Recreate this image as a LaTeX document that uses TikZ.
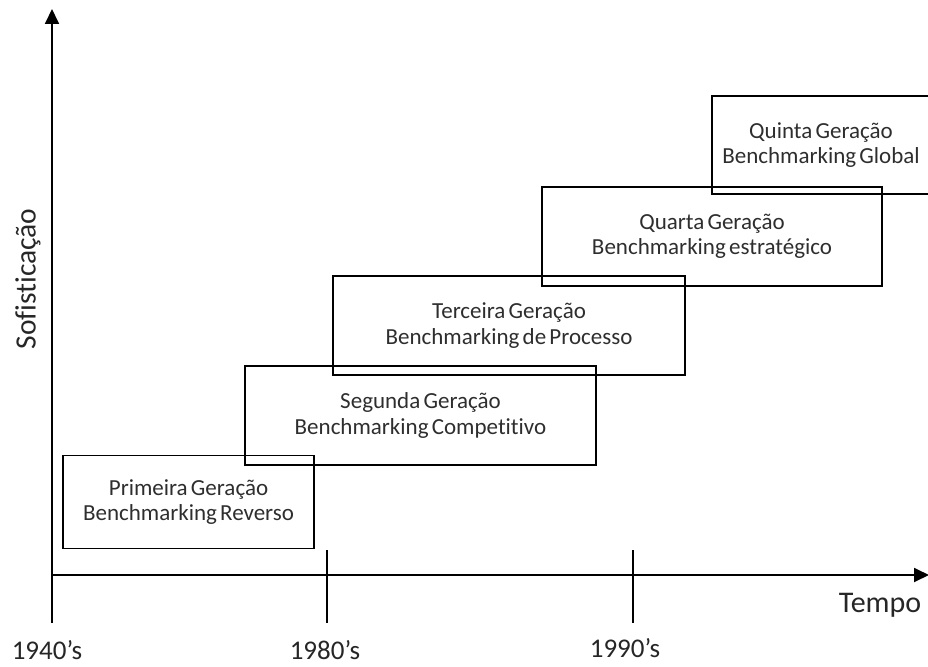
\documentclass[tikz,border=0pt]{standalone}
\usepackage{fontspec}
\setmainfont[Ligatures=NoCommon]{Carlito}
\usetikzlibrary{arrows.meta}
\newcommand\boxfont{\fontsize{23}{25.5}\selectfont\spaceskip=0.14em\relax}
\begin{document}
\begin{tikzpicture}[x=1pt,y=-1pt,
  axis/.style={line width=1.8pt,-{Triangle[length=15pt,width=14pt]}},
  tick/.style={line width=1.8pt},
  genbox/.style={draw,line width=1.8pt,align=center,inner sep=0pt,
    font=\boxfont,text=black!82},
  lbl/.style={font=\fontsize{27}{30}\selectfont,text=black!85,inner sep=1pt}]
\useasboundingbox (0,0) rectangle (928,666);
% axes
\coordinate (ybot) at (52,623);
\coordinate (ytop) at (52,9);
\coordinate (xleft) at (52,575);
\coordinate (xright) at (929,575);
\draw[axis] (ybot) -- (ytop);
\draw[axis] (xleft) -- (xright);
% ticks
\coordinate (t1a) at (327,550); \coordinate (t1b) at (327,623);
\coordinate (t2a) at (633,550); \coordinate (t2b) at (633,623);
\draw[tick] (t1a) -- (t1b);
\draw[tick] (t2a) -- (t2b);
% axis labels
\node[lbl] (l1940) at (47,650) {1940’s};
\node[lbl] (l1980) at (325,650) {1980’s};
\node[lbl] (l1990) at (625,648) {1990’s};
\node[lbl,font=\fontsize{30}{33}\selectfont] (tempo) at (880,605) {Tempo};
\node[lbl,font=\fontsize{29.5}{32}\selectfont,rotate=90] (sofis) at (28,279) {Sofisticação};
% generations
\node[genbox,minimum width=251pt,minimum height=93pt] (g1) at (188.5,502)
  {Primeira Geração\\Benchmarking Reverso};
\node[genbox,minimum width=351pt,minimum height=99pt] (g2) at (420.5,415.5)
  {Segunda Geração\\Benchmarking Competitivo};
\node[genbox,minimum width=352pt,minimum height=99pt] (g3) at (509,325.5)
  {Terceira Geração\\Benchmarking de Processo};
\node[genbox,minimum width=340pt,minimum height=99pt] (g4) at (712,236.5)
  {Quarta Geração\\Benchmarking estratégico};
\node[genbox,minimum width=218pt,minimum height=98pt] (g5) at (821,145)
  {Quinta Geração\\Benchmarking Global};
\end{tikzpicture}
\end{document}
